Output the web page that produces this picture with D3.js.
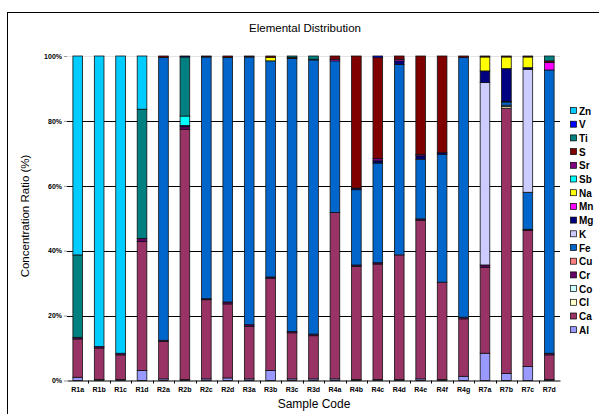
<!DOCTYPE html>
<html>
<head>
<meta charset="utf-8">
<script src="https://cdn.jsdelivr.net/npm/d3@7"></script>
<style>
  body { margin: 0; background: #fff; }
  svg { display: block; font-family: "Liberation Sans", Arial, sans-serif; }
</style>
</head>
<body>
<div id="chart"></div>
<script>
// ── Data ─────────────────────────────────────────────────
var samples = ["R1a", "R1b", "R1c", "R1d", "R2a", "R2b", "R2c", "R2d", "R3a", "R3b", "R3c", "R3d",
  "R4a", "R4b", "R4c", "R4d", "R4e", "R4f", "R4g", "R7a", "R7b", "R7c", "R7d"];

// stacking order, bottom to top
var elements = ["Al", "Ca", "Cl", "Co", "Cr", "Cu", "Fe", "K", "Mg", "Mn", "Na", "Sb", "Sr", "S", "Ti", "V", "Zn"];

var Al = [1.0, 0.3, 0.3, 3.1, 0.5, 0.3, 0.5, 0.8, 0.5, 3.1, 0.5, 0.5, 0.5, 0.3, 0.3, 0.3, 0.5, 0.3, 1.3, 8.4, 2.2, 4.3, 0.3];
var Ca = [11.8, 9.7, 7.6, 39.7, 11.5, 77.1, 24.4, 22.8, 16.2, 28.4, 14.2, 13.3, 51.3, 34.9, 35.6, 38.4, 48.9, 30.0, 17.7, 26.5, 81.9, 41.9, 7.6];
var Cl = [0, 0, 0, 0, 0, 0, 0, 0, 0, 0, 0, 0, 0, 0, 0, 0, 0, 0, 0, 0, 0.5, 0, 0];
var Co = [0, 0, 0, 0, 0, 0, 0, 0, 0, 0, 0, 0, 0, 0, 0, 0, 0, 0, 0, 0, 0.4, 0, 0];
var Cr = [0.5, 0.5, 0.5, 1.0, 0.4, 0.8, 0.3, 0.6, 0.5, 0.4, 0.4, 0.5, 0, 0.4, 0.4, 0, 0.4, 0, 0.5, 0.7, 0, 0.4, 0.5];
var Cu = [0, 0, 0, 0, 0, 0, 0, 0, 0, 0, 0, 0, 0, 0, 0, 0, 0, 0, 0, 0, 0, 0, 0];
var Fe = [0, 0, 0, 0, 87.1, 0, 74.5, 75.3, 82.5, 66.6, 84.1, 84.5, 46.7, 23.2, 30.7, 58.7, 18.4, 39.4, 80.0, 0, 1.0, 11.4, 87.3];
var K  = [0, 0, 0, 0, 0, 0, 0, 0, 0, 0, 0, 0, 0, 0, 0, 0, 0, 0, 0, 56.2, 0.2, 37.9, 0];
var Mg = [0, 0, 0, 0, 0, 0.4, 0, 0, 0, 0, 0, 0, 0, 0.5, 0.7, 1.1, 1.0, 0.5, 0, 3.6, 10.1, 0.5, 0];
var Mn = [0, 0, 0, 0, 0, 0, 0, 0, 0, 0, 0, 0, 0.5, 0, 0, 0.5, 0, 0, 0, 0, 0, 0, 2.3];
var Na = [0, 0, 0, 0, 0, 0, 0, 0, 0, 1.1, 0, 0, 0, 0, 0, 0, 0, 0, 0, 4.3, 3.6, 3.3, 0];
var Sb = [0, 0, 0, 0, 0, 2.9, 0, 0, 0, 0, 0, 0, 0, 0, 0, 0, 0, 0, 0, 0, 0, 0, 0];
var Sr = [0, 0, 0, 0, 0, 0, 0, 0, 0, 0, 0, 0, 0, 0, 0.7, 0, 0.5, 0, 0, 0, 0, 0, 0];
var S  = [0, 0, 0, 0, 0.5, 0, 0.3, 0.5, 0.3, 0.4, 0.3, 0.2, 1.0, 40.7, 31.1, 1.0, 30.3, 29.8, 0.5, 0.3, 0.3, 0.3, 0.5];
var Ti = [25.4, 0, 0, 39.8, 0, 18.2, 0, 0, 0, 0, 0.5, 1.0, 0, 0, 0, 0, 0, 0, 0, 0, 0, 0, 1.5];
var V  = [0, 0, 0, 0, 0, 0.3, 0, 0, 0, 0, 0, 0, 0, 0, 0.5, 0, 0, 0, 0, 0, 0, 0, 0];
var Zn = [61.3, 89.5, 91.6, 16.4, 0, 0, 0, 0, 0, 0, 0, 0, 0, 0, 0, 0, 0, 0, 0, 0, 0, 0, 0];

var series = { Al: Al, Ca: Ca, Cl: Cl, Co: Co, Cr: Cr, Cu: Cu, Fe: Fe, K: K, Mg: Mg, Mn: Mn,
  Na: Na, Sb: Sb, Sr: Sr, S: S, Ti: Ti, V: V, Zn: Zn };

var colors = {
  Al: "#9999ff", Ca: "#993366", Cl: "#ffffcc", Co: "#ccffff", Cr: "#660066", Cu: "#ff8080",
  Fe: "#0066cc", K: "#ccccff", Mg: "#000080", Mn: "#ff00ff", Na: "#ffff00", Sb: "#00ffff",
  Sr: "#800080", S: "#800000", Ti: "#008080", V: "#0000ff", Zn: "#00ccff"
};

var yTicks = [0, 0.2, 0.4, 0.6, 0.8, 1];

// ── Layout ───────────────────────────────────────────────
var W = 599, H = 414;
var m = { left: 67, right: 39, top: 56, bottom: 33 };
var iW = W - m.left - m.right;
var iH = H - m.top - m.bottom - 0.5;

var svg = d3.select("#chart").append("svg").attr("width", W).attr("height", H);

// outer frame
svg.append("rect")
  .attr("x", 7.5).attr("y", 12.5).attr("width", 620).attr("height", 440)
  .attr("fill", "none").attr("stroke", "#000").attr("stroke-width", 1);

svg.append("text")
  .attr("x", 305).attr("y", 32)
  .attr("text-anchor", "middle").attr("font-size", 11.5)
  .text("Elemental Distribution");

var g = svg.append("g").attr("transform", "translate(" + m.left + "," + m.top + ")");

// ── Scales ───────────────────────────────────────────────
var table = samples.map(function (s, i) {
  var row = { sample: s };
  elements.forEach(function (e) { row[e] = series[e][i]; });
  return row;
});

var stack = d3.stack().keys(elements).offset(d3.stackOffsetExpand)(table);

var xScale = d3.scaleBand().domain(samples).range([0, iW]).paddingInner(0.55).paddingOuter(0.275);
var xBand = d3.scaleBand().domain(samples).range([0, iW]);
var yScale = d3.scaleLinear().domain([0, 1]).range([iH, 0]);

// grid
g.selectAll(".grid")
  .data(yTicks.filter(function (t) { return t > 0; }))
  .join("line")
  .attr("class", "grid")
  .attr("x1", 0).attr("x2", iW)
  .attr("y1", function (d) { return Math.round(yScale(d)) + 0.5; })
  .attr("y2", function (d) { return Math.round(yScale(d)) + 0.5; })
  .attr("stroke", function (d) { return d === 1 ? "#e4e4e4" : "#000"; })
  .attr("stroke-width", 1);

// ── Bars ─────────────────────────────────────────────────
var layers = g.selectAll(".layer")
  .data(stack)
  .join("g")
  .attr("class", "layer")
  .attr("fill", function (d) { return colors[d.key]; });

layers.selectAll("rect")
  .data(function (d) { return d.filter(function (p) { return p[1] - p[0] > 0; }); })
  .join("rect")
  .attr("x", function (d) { return xScale(d.data.sample); })
  .attr("width", xScale.bandwidth())
  .attr("y", function (d) { return yScale(d[1]); })
  .attr("height", function (d) { return yScale(d[0]) - yScale(d[1]); })
  .attr("stroke", "#111")
  .attr("stroke-width", 0.8);

// ── Axes ─────────────────────────────────────────────────
var yAxis = g.append("g")
  .call(d3.axisLeft(yScale).tickValues(yTicks).tickSize(3).tickFormat(d3.format(".0%")));
yAxis.select(".domain").remove();
yAxis.selectAll("line").attr("stroke", "#999");
yAxis.selectAll("text").attr("font-size", 7).attr("font-weight", "bold").attr("x", -5)
  .attr("font-family", "Liberation Sans, Arial, sans-serif");

var xAxis = g.append("g").attr("transform", "translate(0," + iH + ")")
  .call(d3.axisBottom(xScale).tickSize(0).tickPadding(7));
xAxis.select(".domain").attr("stroke", "#000").attr("stroke-width", 1.2);
xAxis.selectAll("text").attr("font-size", 7).attr("font-weight", "bold")
  .attr("font-family", "Liberation Sans, Arial, sans-serif");

// tick marks between categories
g.selectAll(".xtick")
  .data(samples.slice(1))
  .join("line")
  .attr("class", "xtick")
  .attr("x1", function (d) { return Math.round(xBand(d)) + 0.5; })
  .attr("x2", function (d) { return Math.round(xBand(d)) + 0.5; })
  .attr("y1", iH).attr("y2", iH + 3)
  .attr("stroke", "#000");

svg.append("text")
  .attr("x", 314).attr("y", 408)
  .attr("text-anchor", "middle").attr("font-size", 12)
  .text("Sample Code");

svg.append("text")
  .attr("transform", "translate(29,216) rotate(-90)")
  .attr("text-anchor", "middle").attr("font-size", 11.5)
  .text("Concentration Ratio (%)");

// ── Legend ───────────────────────────────────────────────
var legendKeys = elements.slice().reverse();
var legend = svg.append("g").attr("transform", "translate(570,111)");
var item = legend.selectAll(".item")
  .data(legendKeys)
  .join("g")
  .attr("class", "item")
  .attr("transform", function (d, i) { return "translate(0," + (i * 13.7) + ")"; });

item.append("rect")
  .attr("x", 0.5).attr("y", -3.5).attr("width", 6).attr("height", 6)
  .attr("fill", function (d) { return colors[d]; })
  .attr("stroke", "#000").attr("stroke-width", 0.7);

item.append("text")
  .attr("x", 9).attr("y", 3.5)
  .attr("font-size", 10).attr("font-weight", "bold")
  .text(function (d) { return d; });
</script>
</body>
</html>
